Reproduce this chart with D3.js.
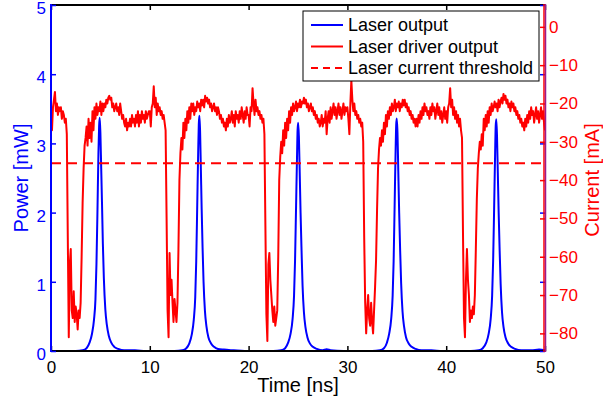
<!DOCTYPE html>
<html>
<head>
<meta charset="utf-8">
<script src="https://cdn.jsdelivr.net/npm/d3@7"></script>
<style>
  body { margin: 0; background: #fff; }
  svg { display: block; }
  text { font-family: "Liberation Sans", Arial, sans-serif; }
</style>
</head>
<body>
<div id="chart"></div>
<script>
// laser output power (mW)
const powerTimes = [
  0, 2.5, 3.2, 3.6, 3.9, 4.15, 4.35, 4.5, 4.6, 4.7, 4.8, 4.87, 4.93, 5.0, 5.08, 5.16, 5.25, 5.35, 5.5, 5.65, 5.85, 6.1, 6.4, 6.8, 7.4, 8.5, 9.6,
  12.5, 13.3, 13.7, 14.0, 14.25, 14.45, 14.6, 14.7, 14.8, 14.9, 14.96, 15.02, 15.09, 15.17, 15.25, 15.34, 15.44, 15.58, 15.73, 15.93, 16.2, 16.5, 16.9, 17.5, 18.5, 19.6,
  22.5, 23.3, 23.7, 24.0, 24.25, 24.45, 24.6, 24.7, 24.8, 24.9, 24.96, 25.02, 25.09, 25.17, 25.26, 25.36, 25.46, 25.6, 25.75, 25.95, 26.2, 26.5, 26.9, 27.5, 27.9, 28.3, 29.6,
  32.5, 33.3, 33.7, 34.0, 34.23, 34.43, 34.58, 34.68, 34.78, 34.88, 34.94, 35.0, 35.07, 35.15, 35.24, 35.34, 35.44, 35.58, 35.73, 35.93, 36.2, 36.5, 36.9, 37.5, 38.5, 39.6,
  42.5, 43.3, 43.7, 44.05, 44.3, 44.5, 44.65, 44.75, 44.85, 44.95, 45.01, 45.07, 45.14, 45.22, 45.31, 45.41, 45.51, 45.65, 45.8, 46.0, 46.27, 46.57, 46.97, 47.6, 48.6, 49.4, 50
];
const powerValues = [
  0, 0, 0.01, 0.04, 0.12, 0.25, 0.45, 0.75, 1.25, 2.0, 2.85, 3.25, 3.37, 3.15, 2.65, 2.15, 1.55, 1.05, 0.6, 0.38, 0.22, 0.12, 0.06, 0.03, 0.01, 0.01, 0,
  0, 0.01, 0.04, 0.11, 0.24, 0.45, 0.78, 1.3, 2.1, 2.9, 3.28, 3.4, 3.18, 2.62, 2.05, 1.5, 1.0, 0.58, 0.36, 0.2, 0.11, 0.06, 0.03, 0.02, 0.01, 0,
  0, 0.01, 0.04, 0.12, 0.25, 0.46, 0.8, 1.3, 2.05, 2.8, 3.2, 3.3, 3.1, 2.6, 2.0, 1.45, 0.95, 0.56, 0.35, 0.2, 0.11, 0.06, 0.03, 0.01, 0.025, 0.01, 0,
  0, 0.01, 0.04, 0.12, 0.25, 0.46, 0.8, 1.3, 2.1, 2.9, 3.27, 3.36, 3.15, 2.6, 2.0, 1.45, 0.98, 0.57, 0.36, 0.2, 0.11, 0.06, 0.03, 0.01, 0.01, 0,
  0, 0.01, 0.04, 0.12, 0.25, 0.46, 0.8, 1.3, 2.05, 2.85, 3.25, 3.35, 3.12, 2.6, 2.0, 1.45, 0.97, 0.56, 0.35, 0.2, 0.11, 0.06, 0.03, 0.01, 0.01, 0.02, 0.01
];

// laser driver output (mA), one sample every 0.1 ns from 0 to 50 ns
const driverStep = 0.1;
const driverValues = [
  -22, -27, -21, -19, -17, -22, -20, -23, -21, -22,
  -21, -24, -22, -23, -25, -24, -28, -55, -81, -62,
  -58, -74, -76, -69, -77, -73, -75, -79, -74, -76,
  -72, -60, -46, -37, -31, -29, -26, -31, -24, -29,
  -25, -30, -22, -27, -21, -24, -20, -23, -21, -22,
  -19.5, -23, -20, -22, -20, -21, -19, -20, -18.5, -18,
  -19, -18.5, -21, -20, -22, -21, -20, -22, -21, -23,
  -20, -22, -24, -23, -25, -26, -24, -27, -25, -26,
  -24, -26, -23, -25, -24, -26, -23, -25, -22, -26,
  -23, -25, -22, -24, -23, -25, -22, -24, -23, -22,

  -22, -26, -21, -20, -15.5, -21, -18.5, -23, -20, -22,
  -21, -23, -22, -24, -23, -25, -27, -50, -74, -81,
  -59, -70, -66, -72, -77, -71, -74, -77, -72, -58,
  -40, -33, -29, -32, -25, -29, -24, -27, -22, -25,
  -21, -24, -20, -22, -20, -23, -21, -22, -19.5, -21,
  -20, -22, -19, -20.5, -19, -21, -18, -19.5, -18.5, -20,
  -19, -21, -20, -22, -21, -20, -22, -21, -23, -21,
  -22, -24, -23, -25, -24, -26, -25, -27, -24, -26,
  -23, -25, -24, -22, -25, -23, -26, -22, -24, -23,
  -25, -22, -24, -21, -23, -25, -22, -24, -21, -23,

  -23, -26, -21, -22, -16, -20, -23, -19, -22, -21,
  -23, -22, -24, -23, -25, -24, -28, -52, -75, -82,
  -62, -59, -66, -70, -74, -77, -73, -78, -76, -74,
  -60, -40, -34, -30, -33, -27, -31, -25, -29, -24,
  -27, -22, -25, -21, -23, -20, -22, -21, -19.5, -22,
  -20, -21, -19, -21, -19.5, -20, -18.5, -20, -19, -21,
  -20, -22, -21, -20, -22, -21, -23, -22, -24, -23,
  -25, -24, -26, -25, -23, -26, -24, -25, -22, -28,
  -24, -22, -25, -21, -24, -22, -20, -23, -21, -24,
  -22, -20, -23, -21, -24, -22, -20, -23, -21, -22,

  -21, -24, -28, -20, -14, -19, -22, -20, -23, -22,
  -24, -23, -25, -24, -26, -25, -30, -55, -72, -80,
  -74, -70, -76, -78, -72, -77, -80, -74, -68, -61,
  -48, -37, -32, -29, -31, -27, -30, -25, -28, -23,
  -26, -22, -24, -21, -23, -20, -22, -21, -19, -22,
  -20, -21, -19.5, -22, -20, -21, -19, -20.5, -19, -21,
  -20, -22, -21, -23, -22, -24, -23, -25, -24, -26,
  -24, -26, -23, -25, -22, -24, -21, -23, -20, -22,
  -21, -23, -22, -24, -21, -23, -20, -22, -21, -24,
  -22, -20, -23, -21, -24, -22, -25, -23, -21, -24,

  -22, -25, -21, -20, -16, -21, -19, -23, -21, -24,
  -22, -25, -23, -26, -24, -27, -29, -54, -76, -81,
  -66, -58, -66, -70, -77, -74, -76, -73, -75, -70,
  -58, -45, -37, -33, -30, -32, -28, -31, -24, -27,
  -23, -26, -22, -25, -21, -23, -20, -22, -21, -19.5,
  -21, -20, -22, -19, -21, -19.5, -18.5, -20, -17.5, -19,
  -18, -20, -19, -21, -20, -22, -19.5, -21, -20, -22,
  -21, -23, -22, -24, -23, -25, -24, -26, -25, -27,
  -24, -26, -23, -25, -22, -24, -21, -23, -22, -25,
  -23, -21, -24, -22, -25, -23, -21, -24, -22, -25,
  -27
];

const thresholdCurrent = -35.6;
const powerTicks = [0, 1, 2, 3, 4, 5];
const currentTicks = [0, -10, -20, -30, -40, -50, -60, -70, -80];
const timeTicks = [0, 10, 20, 30, 40, 50];
const legendLabels = ["Laser output", "Laser driver output", "Laser current threshold"];

const width = 603, height = 402;
const plotLeft = 51, plotRight = 545, plotTop = 5, plotBottom = 351;

const svg = d3.select("#chart")
    .append("svg")
    .attr("width", width)
    .attr("height", height);

const x = d3.scaleLinear().domain([0, 50]).range([plotLeft, plotRight]);
const yPower = d3.scaleLinear().domain([0, 5]).range([plotBottom, plotTop]);
const yCurrent = d3.scaleLinear().domain([-84.6, 5.7]).range([plotBottom, plotTop]);

const powerData = powerTimes.map((t, i) => [t, powerValues[i]]);
const driverData = driverValues.map((v, i) => [i * driverStep, v]);

// blue power trace
svg.append("path")
    .datum(powerData)
    .attr("fill", "none")
    .attr("stroke", "#0000ff")
    .attr("stroke-width", 2)
    .attr("d", d3.line().x(d => x(d[0])).y(d => yPower(d[1])).curve(d3.curveMonotoneX));

// red driver trace
svg.append("path")
    .datum(driverData)
    .attr("fill", "none")
    .attr("stroke", "#ff0000")
    .attr("stroke-width", 2)
    .attr("stroke-linejoin", "round")
    .attr("d", d3.line().x(d => x(d[0])).y(d => yCurrent(d[1])));

// threshold
svg.append("line")
    .attr("x1", x(0)).attr("x2", x(50))
    .attr("y1", yCurrent(thresholdCurrent)).attr("y2", yCurrent(thresholdCurrent))
    .attr("stroke", "#ff0000")
    .attr("stroke-width", 2)
    .attr("stroke-dasharray", "10,6");

// bottom axis
const xAxis = svg.append("g")
    .attr("transform", `translate(0,${plotBottom})`)
    .call(d3.axisBottom(x).tickValues(timeTicks).tickSize(-5).tickSizeOuter(0).tickPadding(10));
xAxis.select(".domain").remove();
xAxis.selectAll("line").attr("stroke", "#000").attr("stroke-width", 1.5);
xAxis.selectAll("text").attr("font-size", 17).attr("fill", "#000");

// top ticks
const xTop = svg.append("g")
    .attr("transform", `translate(0,${plotTop})`)
    .call(d3.axisTop(x).tickValues(timeTicks).tickSize(-5).tickSizeOuter(0).tickFormat(""));
xTop.select(".domain").remove();
xTop.selectAll("line").attr("stroke", "#000").attr("stroke-width", 1.5);

svg.append("line")
    .attr("x1", plotLeft).attr("x2", plotRight).attr("y1", plotBottom).attr("y2", plotBottom)
    .attr("stroke", "#000").attr("stroke-width", 2);
svg.append("line")
    .attr("x1", plotLeft).attr("x2", plotRight).attr("y1", plotTop).attr("y2", plotTop)
    .attr("stroke", "#000").attr("stroke-width", 2);

// left (power) axis
const yAxisL = svg.append("g")
    .attr("transform", `translate(${plotLeft},0)`)
    .call(d3.axisLeft(yPower).tickValues(powerTicks).tickFormat(d3.format("d"))
        .tickSize(-5).tickSizeOuter(0).tickPadding(5));
yAxisL.select(".domain").remove();
yAxisL.selectAll("line").attr("stroke", "#0000ff").attr("stroke-width", 1.5);
yAxisL.selectAll("text").attr("font-size", 17).attr("fill", "#0000ff").attr("dy", "0.5em");

// mirrored power ticks on the right
const yAxisLR = svg.append("g")
    .attr("transform", `translate(${plotRight},0)`)
    .call(d3.axisRight(yPower).tickValues(powerTicks).tickSize(-5).tickSizeOuter(0).tickFormat(""));
yAxisLR.select(".domain").remove();
yAxisLR.selectAll("line").attr("stroke", "#0000ff").attr("stroke-width", 1.5);

svg.append("line")
    .attr("x1", plotLeft).attr("x2", plotLeft).attr("y1", plotTop - 1).attr("y2", plotBottom + 1)
    .attr("stroke", "#0000ff").attr("stroke-width", 2);

// right (current) axis
const yAxisR = svg.append("g")
    .attr("transform", `translate(${plotRight},0)`)
    .call(d3.axisRight(yCurrent).tickValues(currentTicks).tickSize(-5).tickSizeOuter(0).tickPadding(4));
yAxisR.select(".domain").remove();
yAxisR.selectAll("line").attr("stroke", "#ff0000").attr("stroke-width", 1.5);
yAxisR.selectAll("text").attr("font-size", 17).attr("fill", "#ff0000");

svg.append("line")
    .attr("x1", plotRight - 1).attr("x2", plotRight - 1).attr("y1", plotTop - 1).attr("y2", plotBottom + 1)
    .attr("stroke", "#ff0000").attr("stroke-width", 1.5);
svg.append("line")
    .attr("x1", plotRight + 0.5).attr("x2", plotRight + 0.5).attr("y1", plotTop - 1).attr("y2", plotBottom + 1)
    .attr("stroke", "#9b1b8f").attr("stroke-width", 1.5);

// axis titles
svg.append("text")
    .attr("x", 298).attr("y", 392)
    .attr("text-anchor", "middle")
    .attr("font-size", 20)
    .text("Time [ns]");

svg.append("text")
    .attr("transform", "translate(28,178) rotate(-90)")
    .attr("text-anchor", "middle")
    .attr("font-size", 20)
    .attr("fill", "#0000ff")
    .text("Power [mW]");

svg.append("text")
    .attr("transform", "translate(599,180) rotate(-90)")
    .attr("text-anchor", "middle")
    .attr("font-size", 20)
    .attr("fill", "#ff0000")
    .text("Current [mA]");

// legend
const legend = svg.append("g").attr("transform", "translate(303,11)");
legend.append("rect")
    .attr("width", 236).attr("height", 70)
    .attr("fill", "#fff").attr("stroke", "#000").attr("stroke-width", 1);

const legendStyles = [
    { color: "#0000ff", dash: null },
    { color: "#ff0000", dash: null },
    { color: "#ff0000", dash: "7,5" }
];

legendLabels.forEach((label, i) => {
    const ly = 14 + i * 21.5;
    legend.append("line")
        .attr("x1", 8).attr("x2", 40).attr("y1", ly).attr("y2", ly)
        .attr("stroke", legendStyles[i].color)
        .attr("stroke-width", 2)
        .attr("stroke-dasharray", legendStyles[i].dash);
    legend.append("text")
        .attr("x", 45).attr("y", ly)
        .attr("dy", "0.35em")
        .attr("font-size", 18)
        .text(label);
});
</script>
</body>
</html>
